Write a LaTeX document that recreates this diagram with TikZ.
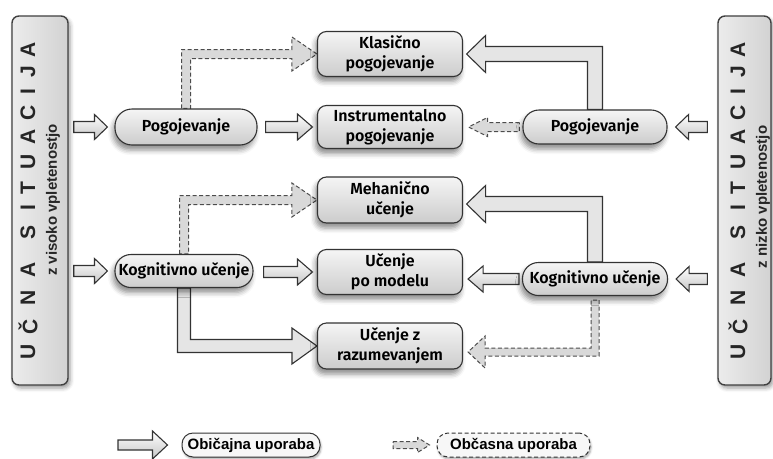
\documentclass[tikz,border=0pt]{standalone}
\usepackage{fontspec}
\setmainfont{Liberation Sans}
\newfontfamily\boxfont{Fira Sans SemiBold}
\usetikzlibrary{calc,shadows.blur}

\pgfdeclarelayer{arrowlayer}
\pgfsetlayers{arrowlayer,main}

% straight block arrow: style, from, to, shaft half width, head half width, head length (negative = leftwards)
\newcommand\hblockarrow[6]{%
  \path[#1] let \p1=(#2), \p2=(#3) in
    ({\x1},{\y2+#4pt}) -- ({\x2-(#6pt)},{\y2+#4pt}) -- ({\x2-(#6pt)},{\y2+#5pt}) -- (\x2,\y2)
    -- ({\x2-(#6pt)},{\y2-#5pt}) -- ({\x2-(#6pt)},{\y2-#4pt}) -- ({\x1},{\y2-#4pt}) -- cycle;}

% elbow block arrow (vertical, then horizontal): style, from, to, shaft, head, head length, dx, dy
\newcommand\elbowarrow[8]{%
  \path[#1] let \p1=(#2), \p2=(#3) in
    ({\x1-(#7)*(#4pt)},{\y1}) -- ({\x1-(#7)*(#4pt)},{\y2+(#8)*(#4pt)})
    -- ({\x2-(#7)*(#6pt)},{\y2+(#8)*(#4pt)}) -- ({\x2-(#7)*(#6pt)},{\y2+(#8)*(#5pt)})
    -- (\x2,\y2)
    -- ({\x2-(#7)*(#6pt)},{\y2-(#8)*(#5pt)}) -- ({\x2-(#7)*(#6pt)},{\y2-(#8)*(#4pt)})
    -- ({\x1+(#7)*(#4pt)},{\y2-(#8)*(#4pt)}) -- ({\x1+(#7)*(#4pt)},{\y1}) -- cycle;}

\begin{document}
\begin{tikzpicture}[x=1pt,y=-1pt,
  box/.style={draw=black!80, line width=1.1pt, rounded corners=9pt,
    top color=gray!8, bottom color=gray!40, align=center,
    minimum width=145pt, minimum height=45pt, inner sep=2pt,
    font=\boxfont\fontsize{16}{20}\selectfont,
    blur shadow={shadow xshift=-2pt, shadow yshift=-5pt,
      shadow blur radius=5pt, shadow opacity=45}},
  pill/.style={box, minimum height=34pt, rounded corners=16pt},
  panel/.style={draw=black!75, line width=1.4pt, rounded corners=7pt,
    left color=gray!15, right color=gray!35,
    blur shadow={shadow xshift=2pt, shadow yshift=-3pt,
      shadow blur radius=4pt, shadow opacity=40}},
  bigletter/.style={font=\bfseries\fontsize{21}{21}\selectfont,
    text=black!85, rotate=90, inner sep=0pt},
  subtitle/.style={font=\bfseries\fontsize{15}{15}\selectfont,
    text=black!85, rotate=90, inner sep=0pt},
  solidarrow/.style={draw=black!80, line width=1.1pt, line join=miter,
    top color=white, bottom color=gray!45},
  elbowsolid/.style={draw=black!80, line width=1.1pt, line join=miter,
    fill=gray!20},
  dasharrow/.style={draw=black!70, line width=1pt, fill=gray!30,
    dash pattern=on 4pt off 2.5pt},
  legendpill/.style={draw=black!80, line width=1pt, rounded corners=11pt,
    fill=gray!6, minimum height=24pt, inner sep=3pt,
    font=\bfseries\fontsize{15}{15}\selectfont,
    blur shadow={shadow xshift=1pt, shadow yshift=-2pt,
      shadow blur radius=2pt, shadow opacity=35}}
]
\useasboundingbox (0,0) rectangle (773,458);

% side panels
\node[panel, minimum width=56pt, minimum height=369pt] (panelL) at (40,200.5) {};
\node[panel, minimum width=53pt, minimum height=369pt] (panelR) at (744.5,200.5) {};
\foreach \ch/\yy [count=\i] in {U/352,Č/327,N/298,A/270,S/232,I/208,T/188,U/162,A/137,C/113,I/92,J/72,A/50}{
  \node[bigletter] (ltrL\i) at (28,\yy) {\ch};
  \node[bigletter] (ltrR\i) at (738,\yy) {\ch};
}
\node[subtitle] (subL) at (53,200) {z visoko vpletenostjo};
\node[subtitle] (subR) at (763,197) {z nizko vpletenostjo};

% boxes
\node[pill, minimum width=142pt, minimum height=36pt, rounded corners=17pt] (pogL) at (186,127) {Pogojevanje};
\node[pill, minimum width=138pt, minimum height=33pt] (kogL) at (184,271) {Kognitivno učenje};
\node[pill, minimum width=144pt] (pogR) at (595,127) {Pogojevanje};
\node[pill, minimum width=145pt, minimum height=33pt] (kogR) at (595,279) {Kognitivno učenje};
\node[box] (klas)  at (390,54)  {Klasično\\pogojevanje};
\node[box, minimum height=43pt] (instr) at (390,127) {Instrumentalno\\pogojevanje};
\node[box, minimum height=46pt] (mehan) at (390,200) {Mehanično\\učenje};
\node[box] (model) at (390,272) {Učenje\\po modelu};
\node[box, minimum height=46pt] (razum) at (390,346) {Učenje z\\razumevanjem};

% legend
\node[legendpill, minimum width=138pt] (leg1) at (251,445) {Običajna uporaba};
\node[legendpill, minimum width=153pt, dash pattern=on 4pt off 2.5pt] (leg2) at (513.5,445) {Občasna uporaba};
\coordinate (lg1) at (118,447);
\coordinate (lg2) at (393,447);

\begin{pgfonlayer}{arrowlayer}
% inputs from the panels
\hblockarrow{solidarrow}{[xshift=5pt]panelL.east}{[xshift=-7pt]pogL.west}{5.5}{12.5}{13}
\hblockarrow{solidarrow}{[xshift=5pt]panelL.east}{[xshift=-7pt]kogL.west}{5.5}{12.5}{13}
\hblockarrow{solidarrow}{[xshift=-10pt]panelR.west}{[xshift=8pt]pogR.east}{5.5}{12.5}{-13}
\hblockarrow{solidarrow}{[xshift=-10pt]panelR.west}{[xshift=8pt]kogR.east}{5.5}{12.5}{-13}

% straight connectors
\hblockarrow{solidarrow}{[xshift=8pt]pogL.east}{[xshift=-4.5pt]instr.west}{5.5}{13}{15}
\hblockarrow{solidarrow}{[xshift=10pt]kogL.east}{[xshift=-4.5pt]model.west}{5.5}{13}{15}
\hblockarrow{solidarrow}{[xshift=-3pt]kogR.west}{$(model.east |- kogR.west)+(5,0)$}{5.5}{13}{-15}
\hblockarrow{dasharrow}{[xshift=-3pt]pogR.west}{[xshift=5.5pt]instr.east}{4.5}{9.5}{-19}

% elbow connectors
\elbowarrow{elbowsolid}{pogR.north}{[xshift=3.5pt]klas.east}{7.5}{18.5}{19}{-1}{1}
\elbowarrow{elbowsolid}{kogR.north}{[xshift=3.5pt,yshift=-4pt]mehan.east}{7.5}{18.5}{19}{-1}{1}
\elbowarrow{elbowsolid}{kogL.south}{razum.west}{6.5}{18}{25}{1}{-1}
\elbowarrow{dasharrow}{pogL.north}{klas.west}{4.5}{17}{25}{1}{1}
\elbowarrow{dasharrow}{kogL.north}{mehan.west}{4.5}{17}{25}{1}{1}
\elbowarrow{dasharrow}{[yshift=-4pt]kogR.south}{[xshift=5pt,yshift=-6pt]razum.east}{4}{16}{17}{-1}{-1}

% legend arrows
\hblockarrow{solidarrow}{lg1}{[xshift=-14pt]leg1.west}{5}{14}{15}
\hblockarrow{dasharrow}{lg2}{[xshift=-7pt]leg2.west}{3.5}{7.5}{12}
\end{pgfonlayer}
\end{tikzpicture}
\end{document}
